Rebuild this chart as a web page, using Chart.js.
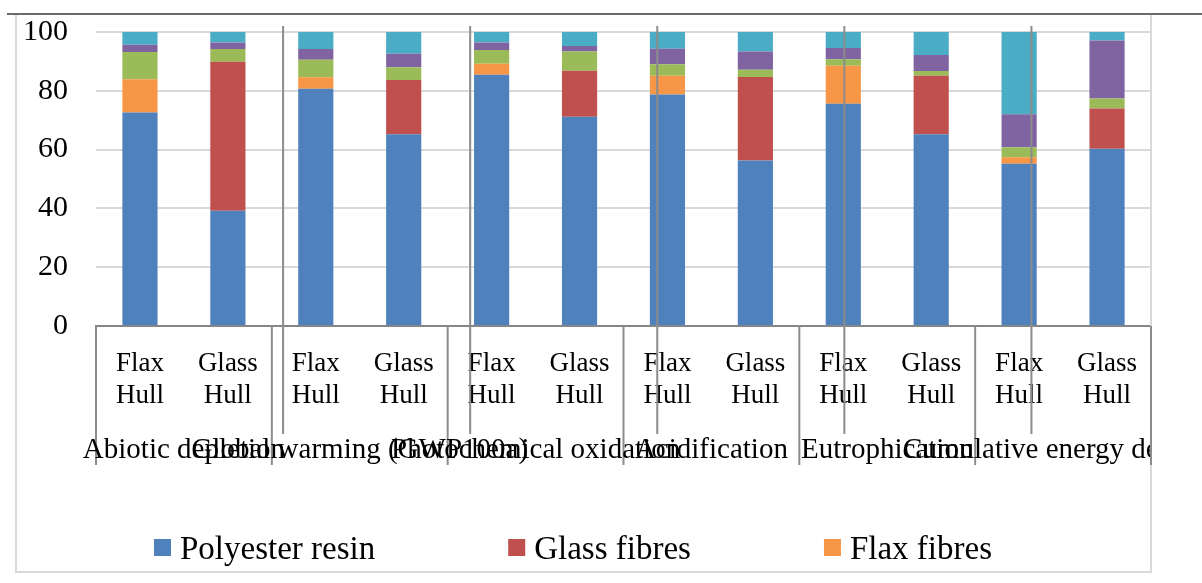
<!DOCTYPE html>
<html>
<head>
<meta charset="utf-8">
<script src="https://cdn.jsdelivr.net/npm/chart.js@4"></script>
<style>
  html, body { margin: 0; padding: 0; background: #fff; }
  #wrap { width: 1202px; height: 583px; }
</style>
</head>
<body>
<div id="wrap"><canvas id="c" width="1202" height="583"></canvas></div>
<script>
// categories: two hulls for each impact category
const groups = ['Abiotic depletion', 'Global warming (GWP100a)', 'Photochemical oxidation',
                'Acidification', 'Eutrophication', 'Cumulative energy demand'];
const hulls = [['Flax', 'Hull'], ['Glass', 'Hull']];
const yTicks = [0, 20, 40, 60, 80, 100];

// share of each component, % (bar order: Flax, Glass per group)
const polyester = [72.6, 39.2, 80.7, 65.2, 85.5, 71.2, 78.7, 56.3, 75.6, 65.2, 55.2, 60.3];
const glassFib  = [0, 50.7, 0, 18.5, 0, 15.6, 0, 28.4, 0, 19.9, 0, 13.7];
const flaxFib   = [11.3, 0, 3.9, 0, 3.7, 0, 6.4, 0, 12.9, 0, 2.2, 0];
const core      = [9.3, 4.3, 6.0, 4.3, 4.7, 6.6, 3.9, 2.5, 2.2, 1.6, 3.4, 3.4];
const gelcoat   = [2.5, 2.2, 3.6, 4.6, 2.5, 1.8, 5.3, 6.2, 3.9, 5.5, 11.2, 19.7];
const other     = [4.3, 3.6, 5.8, 7.4, 3.6, 4.8, 5.7, 6.6, 5.4, 7.8, 28.0, 2.9];

const labels = groups.flatMap(() => hulls);
const FONT = '"Liberation Serif", "Times New Roman", serif';

const series = [
    { label: 'Polyester resin', data: polyester, color: '#4F81BD', legend: true },
    { label: 'Glass fibres', data: glassFib, color: '#C0504D', legend: true },
    { label: 'Flax fibres', data: flaxFib, color: '#F79646', legend: true },
    { label: 'Core', data: core, color: '#9BBB59', legend: false },
    { label: 'Gelcoat', data: gelcoat, color: '#8064A2', legend: false },
    { label: 'Other', data: other, color: '#4BACC6', legend: false },
];

// frame, group separators, group names and legend
const decorPlugin = {
    id: 'decor',
    afterDraw(chart) {
        const { ctx, chartArea: a, scales: { x } } = chart;
        const groupW = a.width / groups.length;
        ctx.save();

        // outer frame
        ctx.strokeStyle = '#d9d9d9';
        ctx.lineWidth = 2;
        ctx.strokeRect(16, 14, a.right - 16, 572 - 14);
        ctx.strokeStyle = '#6b6b6b';
        ctx.beginPath();
        ctx.moveTo(7, 14); ctx.lineTo(1202, 14);
        ctx.stroke();

        // group separators below the axis
        ctx.strokeStyle = '#8c8c8c';
        ctx.lineWidth = 2;
        for (let k = 0; k <= groups.length; k++) {
            const px = a.left + k * groupW;
            ctx.beginPath();
            ctx.moveTo(px, a.bottom); ctx.lineTo(px, a.bottom + 139);
            ctx.stroke();
        }
        // offset separators of the misaligned second axis
        for (let k = 1; k < groups.length; k++) {
            const px = a.left + k * groupW * 1.064;
            ctx.beginPath();
            ctx.moveTo(px, a.top - 6); ctx.lineTo(px, a.bottom + 108);
            ctx.stroke();
        }

        // group names
        ctx.beginPath();
        ctx.rect(16, 0, a.right - 17, 583);
        ctx.clip();
        ctx.fillStyle = '#000';
        ctx.font = '29px ' + FONT;
        ctx.textAlign = 'center';
        ctx.textBaseline = 'alphabetic';
        groups.forEach((g, i) => {
            const cx = (x.getPixelForValue(2 * i) + x.getPixelForValue(2 * i + 1)) / 2;
            ctx.fillText(g, cx, a.bottom + 132);
        });

        // legend (first three series only)
        ctx.font = '33px ' + FONT;
        const items = series.filter(s => s.legend);
        const box = 17, gap = 9, pad = 133;
        const widths = items.map(s => box + gap + ctx.measureText(s.label).width);
        const total = widths.reduce((p, w) => p + w, 0) + pad * (items.length - 1);
        let lx = 573 - total / 2;
        ctx.textAlign = 'left';
        items.forEach((s, i) => {
            ctx.fillStyle = s.color;
            ctx.fillRect(lx, 539, box, box);
            ctx.fillStyle = '#000';
            ctx.fillText(s.label, lx + box + gap, 559);
            lx += widths[i] + pad;
        });
        ctx.restore();
    }
};

new Chart(document.getElementById('c'), {
    type: 'bar',
    data: {
        labels,
        datasets: series.map(s => ({
            label: s.label,
            data: s.data,
            backgroundColor: s.color,
            borderWidth: 0,
            barPercentage: 0.4,
            categoryPercentage: 1,
        }))
    },
    options: {
        responsive: false,
        animation: false,
        layout: { autoPadding: false, padding: { top: 32, right: 51, left: 0, bottom: 0 } },
        scales: {
            x: {
                stacked: true,
                grid: { display: false, drawTicks: false },
                border: { color: '#868686', width: 2 },
                ticks: {
                    autoSkip: false,
                    maxRotation: 0,
                    padding: 22,
                    color: '#000',
                    font: { family: FONT, size: 27, lineHeight: 1.19 }
                },
                afterFit(scale) {
                    scale.height = 257;
                    scale.paddingLeft = 0;
                    scale.paddingRight = 0;
                }
            },
            y: {
                stacked: true,
                min: 0,
                max: 100,
                afterBuildTicks(scale) { scale.ticks = yTicks.map(v => ({ value: v })); },
                grid: { color: '#d9d9d9', lineWidth: 2, drawTicks: false },
                border: { display: false },
                ticks: {
                    padding: 28,
                    color: '#000',
                    font: { family: FONT, size: 30 }
                },
                afterFit(scale) {
                    scale.width = 96;
                    scale.paddingTop = 0;
                    scale.paddingBottom = 0;
                }
            }
        },
        plugins: {
            legend: { display: false },
            tooltip: { enabled: false }
        }
    },
    plugins: [decorPlugin]
});
</script>
</body>
</html>
